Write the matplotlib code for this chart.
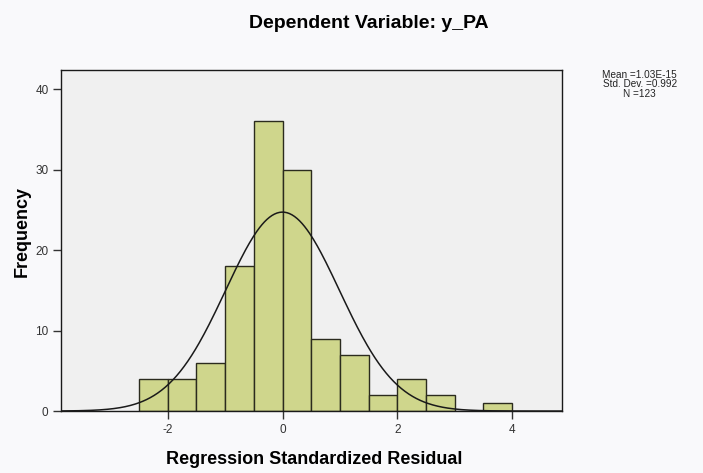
import numpy as np
import matplotlib
matplotlib.use("Agg")
import matplotlib.pyplot as plt

# histogram of regression standardized residuals
bin_edges = [-2.5, -2.0, -1.5, -1.0, -0.5, 0.0, 0.5, 1.0, 1.5, 2.0, 2.5, 3.0, 3.5, 4.0]
counts = [4, 4, 6, 18, 36, 30, 9, 7, 2, 4, 2, 0, 1]
mean = 1.03e-15
std_dev = 0.992
n = 123
x_ticks = [-2, 0, 2, 4]
y_ticks = [0, 10, 20, 30, 40]

plt.rcParams['font.family'] = ['Liberation Sans', 'DejaVu Sans']
plt.rcParams['axes.unicode_minus'] = False

fig = plt.figure(figsize=(7.03, 4.73), dpi=100)
fig.patch.set_facecolor('#f9f9fb')
ax = fig.add_axes([0.0868, 0.131, 0.7126, 0.721])
ax.set_facecolor('#f0f0f0')

width = bin_edges[1] - bin_edges[0]
ax.bar(bin_edges[:-1], counts, width=width, align='edge',
       color='#cfd68c', edgecolor='#2b2b1e', linewidth=1.0, zorder=2)

# normal curve scaled to the histogram
xs = np.linspace(-3.86, 4.87, 400)
ys = n * width / (std_dev * np.sqrt(2 * np.pi)) * np.exp(-0.5 * ((xs - mean) / std_dev) ** 2)
ax.plot(xs, ys, color='#1a1a1a', linewidth=1.1, zorder=3)

ax.set_xlim(-3.86, 4.87)
ax.set_ylim(0, 42.4)
ax.set_xticks(x_ticks)
ax.set_yticks(y_ticks)
ax.tick_params(direction='out', length=6, width=1, labelsize=8.5, colors='#333333', pad=3)
for s in ax.spines.values():
    s.set_color('#1a1a1a')
    s.set_linewidth(1.0)

ax.set_xlabel('Regression Standardized Residual', fontsize=13, fontweight='bold')
ax.xaxis.set_label_coords(0.505, -0.141)
ax.xaxis.label.set_va('center')
ax.set_ylabel('Frequency', fontsize=13, fontweight='bold')
ax.yaxis.set_label_coords(-0.078, 0.525)
ax.yaxis.label.set_va('center')
fig.text(0.525, 0.95, 'Dependent Variable: y_PA', ha='center', va='center',
         fontsize=14, fontweight='bold')

fig.text(0.91, 0.822, 'Mean =1.03E-15\nStd. Dev. =0.992\nN =123', ha='center', va='center',
         fontsize=7.2, linespacing=0.95, color='#222222')

fig.savefig('out.png', dpi=100, facecolor=fig.get_facecolor())
